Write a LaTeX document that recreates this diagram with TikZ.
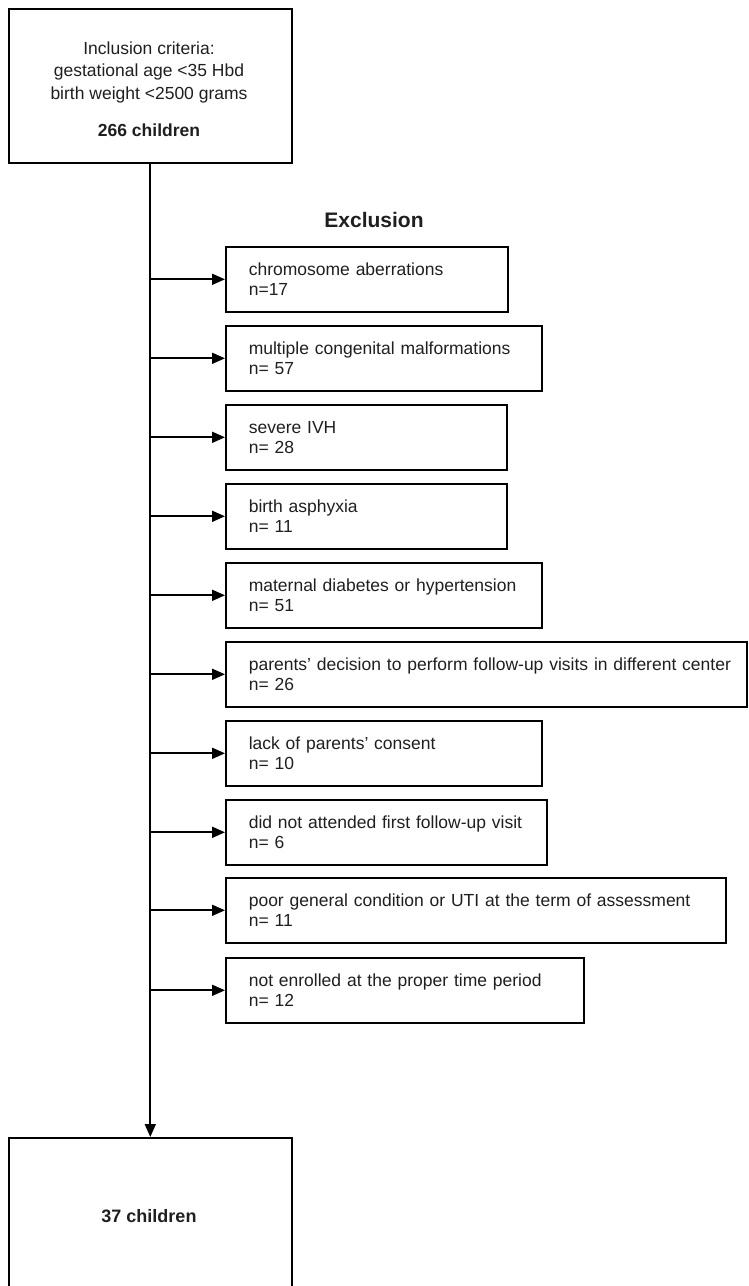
\documentclass[tikz,border=0pt]{standalone}
\usepackage{fontspec}
\setmainfont{Liberation Sans}
\usetikzlibrary{arrows.meta}
\begin{document}
\begin{tikzpicture}[x=1pt,y=-1pt,
  every node/.style={font=\fontsize{17.5}{20}\selectfont, text=black!88},
  bigbox/.style={draw=black, line width=1.6pt, minimum width=283pt, align=center, inner sep=0pt},
  exbox/.style={draw=black, line width=1.6pt, minimum height=65pt, anchor=north west, align=left, inner xsep=23pt, inner ysep=0pt},
  arr/.style={line width=1.8pt, -{Triangle[length=13pt,width=11pt]}}
]
\useasboundingbox (0,0) rectangle (748,1286);
\clip (0,0) rectangle (748,1286);
\node[bigbox, minimum height=154pt, anchor=north west] (top) at (8,8) {};
\node[align=center, inner sep=0pt, font=\fontsize{17.5}{22.5}\selectfont] (toptext) at (149,89)
  {Inclusion criteria:\\gestational age <35 Hbd\\birth weight <2500 grams\\[15pt]\textbf{266 children}};
\node[bigbox, minimum height=160pt, anchor=north west] (bot) at (8,1137) {};
\node[font=\fontsize{18}{22}\selectfont\bfseries] (botlbl) at (149,1216) {37 children};
\node[font=\fontsize{21}{25}\selectfont\bfseries] (exc) at (374,219.5) {Exclusion};

\node[exbox, minimum width=282pt, text width=236pt] (b1) at (225,246) {chromosome aberrations\\n=17};
\node[exbox, minimum width=316pt, text width=270pt] (b2) at (225,325) {multiple congenital malformations\\n= 57};
\node[exbox, minimum width=281pt, text width=235pt] (b3) at (225,404) {severe IVH\\n= 28};
\node[exbox, minimum width=281pt, text width=235pt] (b4) at (225,483) {birth asphyxia\\n= 11};
\node[exbox, minimum width=316pt, text width=270pt] (b5) at (225,562) {maternal diabetes or hypertension\\n= 51};
\node[exbox, minimum width=521pt, text width=475pt] (b6) at (225,641) {\mbox{parents’ decision to perform follow-up visits in different center}\\n= 26};
\node[exbox, minimum width=316pt, text width=270pt] (b7) at (225,720) {lack of parents’ consent\\n= 10};
\node[exbox, minimum width=321pt, text width=275pt] (b8) at (225,799) {did not attended first follow-up visit\\n= 6};
\node[exbox, minimum width=500pt, text width=454pt] (b9) at (225,877) {poor general condition or UTI at the term of assessment\\n= 11};
\node[exbox, minimum width=358pt, text width=312pt] (b10) at (225,957) {not enrolled at the proper time period\\n= 12};

\coordinate (trunk) at (149,0);
\draw[arr] (top.south) -- (bot.north);
\foreach \b in {b1,b2,b3,b4,b5,b6,b7,b8,b9,b10}
  \draw[arr] (trunk |- \b.west) -- (\b.west);
\end{tikzpicture}
\end{document}
